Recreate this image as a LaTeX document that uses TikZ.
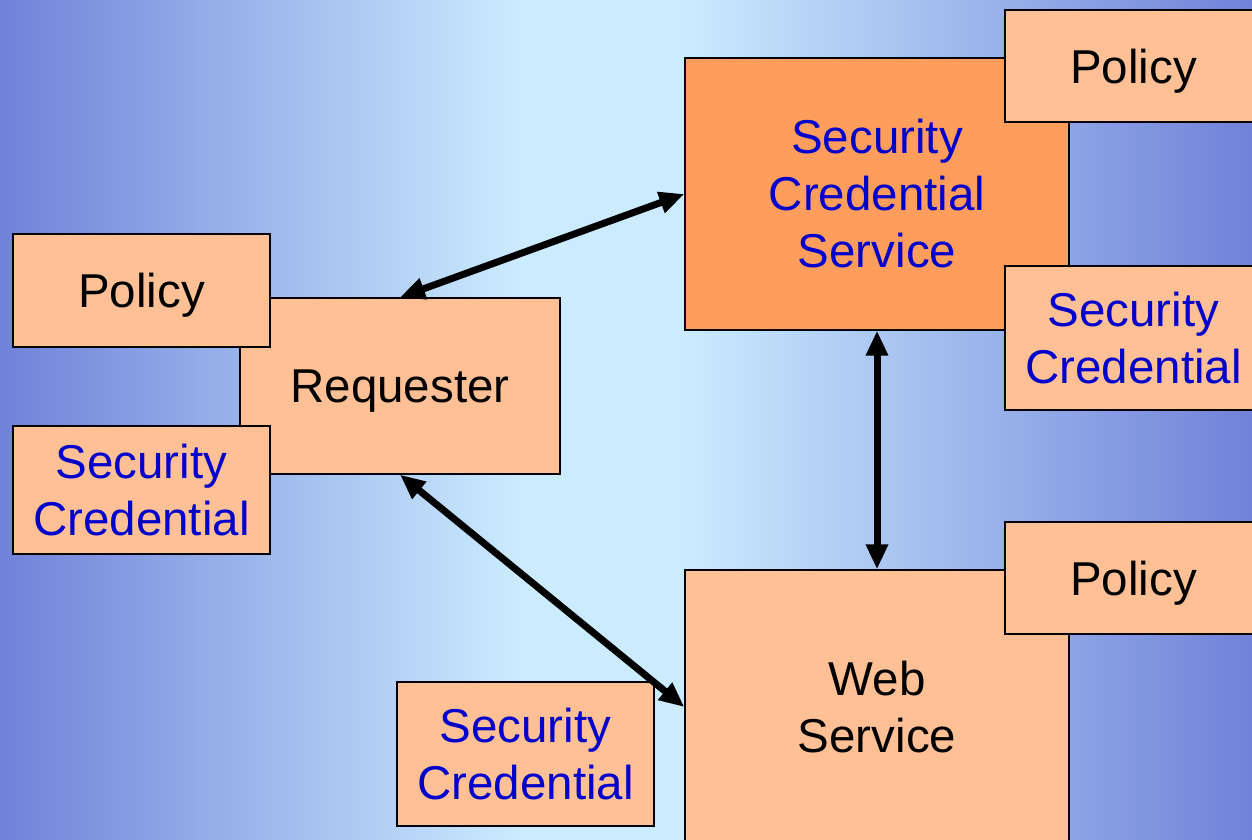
\documentclass[tikz,border=0pt]{standalone}
\usepackage{fontspec}
\setmainfont{Liberation Sans}
\usetikzlibrary{arrows.meta}
\definecolor{boxfill}{HTML}{FFC096}
\definecolor{svcfill}{HTML}{FF9E5C}
\definecolor{credblue}{HTML}{0000CC}
\definecolor{bgedge}{HTML}{7082D9}
\definecolor{bgmid}{HTML}{CBECFF}
% backdrop: blue-violet at both sides, pale cyan band around the middle
\pgfdeclarehorizontalshading{backdrop}{100bp}{%
  color(0bp)=(bgedge); color(25bp)=(bgedge);
  color(45.8bp)=(bgmid); color(52.2bp)=(bgmid);
  color(75bp)=(bgedge); color(100bp)=(bgedge)}
\tikzset{
  box/.style={draw=black, line width=1.3pt, fill=boxfill, rectangle,
    inner sep=0pt, align=center, text=black,
    font=\fontsize{47.5}{57}\selectfont},
  oneline/.style={text depth=0pt},
  small/.style={box, minimum width=257pt},
  cred/.style={small, text=credblue},
  biarrow/.style={line width=7pt, {Triangle[length=25pt,width=21pt]}-{Triangle[length=25pt,width=21pt]}}
}
\begin{document}
\begin{tikzpicture}[x=1pt,y=-1pt]
  \useasboundingbox (0,0) rectangle (1252,840);
  \clip (0,0) rectangle (1252,840);
  \shade[shading=backdrop] (0,0) rectangle (1252,840);

  % requester with its policy and credential
  \node[box, oneline, minimum width=320pt, minimum height=176pt] (req) at (400,386) {Requester};
  \node[small, oneline, minimum height=113pt] (polL) at (141.5,290.5) {Policy};
  \node[cred, minimum height=128pt] (credL) at (141.5,490) {Security\\Credential};

  % security credential service
  \node[box, fill=svcfill, text=credblue, minimum width=384pt, minimum height=272pt] (scs) at (877,194) {Security\\Credential\\Service};
  \node[small, oneline, minimum height=112pt] (polT) at (1133.5,66) {Policy};
  \node[cred, minimum height=144pt] (credR) at (1133.5,338) {Security\\Credential};

  % web service
  \node[box, minimum width=384pt, minimum height=274pt] (ws) at (877,707) {Web\\Service};
  \node[small, oneline, minimum height=112pt] (polW) at (1133.5,578) {Policy};
  \node[cred, minimum height=144pt] (credB) at (525.5,754) {Security\\Credential};

  % message flows
  \draw[biarrow] (req.north) -- (scs.west);
  \draw[biarrow] (req.south) -- (ws.west);
  \draw[biarrow] (scs.south) -- (ws.north);
\end{tikzpicture}
\end{document}
